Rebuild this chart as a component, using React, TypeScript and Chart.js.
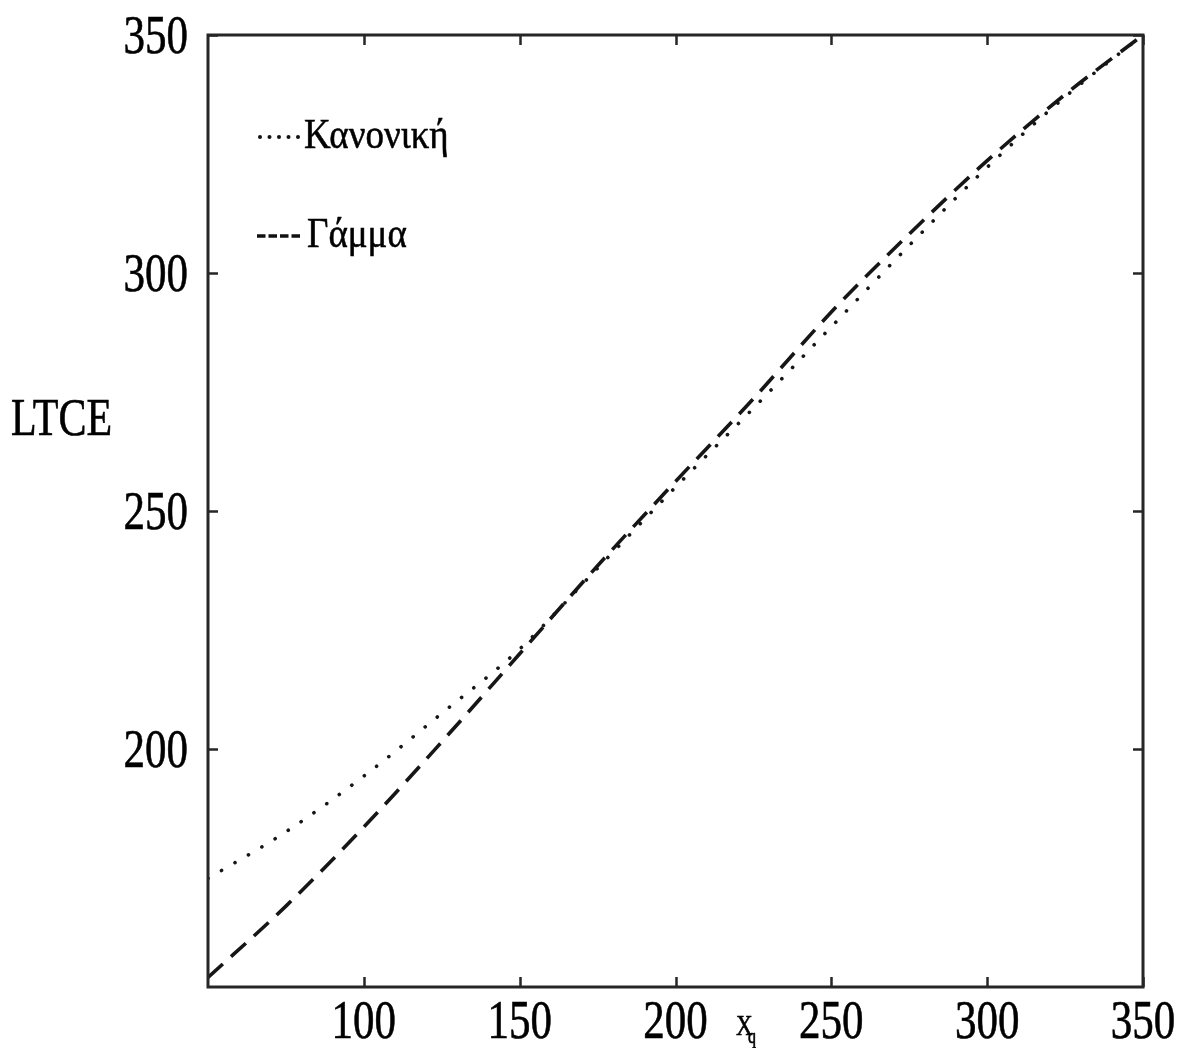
import { useEffect, useRef } from "react";
import { Chart, registerables } from "chart.js";

Chart.register(...registerables);

// Quantile level x_q on the horizontal axis
const xq = [50, 75, 100, 125, 150, 175, 200, 225, 250, 275, 300, 325, 350];
// LTCE under the normal assumption (dotted)
const normalLTCE = [172.8, 182.6, 194.3, 207.5, 221.0, 238.0, 255.0, 271.6, 288.7, 305.8, 322.2, 337.0, 350.0];
// LTCE under the gamma assumption (dashed)
const gammaLTCE = [152.0, 167.0, 183.6, 201.5, 220.0, 238.5, 256.2, 273.6, 291.8, 308.2, 323.6, 337.5, 350.0];

const seriesNames = ["Κανονική", "Γάμμα"];
const xTicks = [100, 150, 200, 250, 300, 350];
const yTicks = [200, 250, 300, 350];
const yTitle = "LTCE";

const SERIF = '"Liberation Serif", "DejaVu Serif", serif';
const STRETCH = 1.27;

function tallText(
  ctx: CanvasRenderingContext2D,
  text: string,
  x: number,
  y: number,
  size: number,
  align: CanvasTextAlign,
  sy = STRETCH
) {
  ctx.save();
  ctx.translate(x, y);
  ctx.scale(1, sy);
  ctx.font = `${size}px ${SERIF}`;
  ctx.textAlign = align;
  ctx.textBaseline = "alphabetic";
  ctx.fillStyle = "#000";
  ctx.strokeStyle = "#000";
  ctx.lineWidth = 0.5;
  ctx.fillText(text, 0, 0);
  ctx.strokeText(text, 0, 0);
  ctx.restore();
}

const framePlugin = {
  id: "frameAndLabels",
  afterDatasetsDraw(chart: any) {
    const { ctx, chartArea: a, scales } = chart;
    const sx = scales.x;
    const syc = scales.y;
    ctx.save();

    // box
    ctx.strokeStyle = "#262626";
    ctx.lineWidth = 3;
    ctx.strokeRect(a.left, a.top, a.right - a.left, a.bottom - a.top);

    // inward ticks on all four sides
    ctx.lineWidth = 2.5;
    const len = 10;
    ctx.beginPath();
    for (const v of xTicks) {
      const px = Math.round(sx.getPixelForValue(v)) + 0.5;
      ctx.moveTo(px, a.bottom);
      ctx.lineTo(px, a.bottom - len);
      ctx.moveTo(px, a.top);
      ctx.lineTo(px, a.top + len);
    }
    for (const v of yTicks) {
      const py = Math.round(syc.getPixelForValue(v)) + 0.5;
      ctx.moveTo(a.left, py);
      ctx.lineTo(a.left + len, py);
      ctx.moveTo(a.right, py);
      ctx.lineTo(a.right - len, py);
    }
    ctx.stroke();

    // tick labels
    for (const v of xTicks) {
      tallText(ctx, String(v), sx.getPixelForValue(v), a.bottom + 51, 43, "center");
    }
    for (const v of yTicks) {
      tallText(ctx, String(v), a.left - 20, syc.getPixelForValue(v) + 17.5, 43, "right");
    }

    // axis titles
    tallText(ctx, yTitle, 11, 435, 42, "left");
    tallText(ctx, "X", 736, 1035, 23, "left");
    tallText(ctx, "q", 748, 1043, 16, "left");

    // legend
    ctx.fillStyle = "#111";
    for (let i = 0; i < 5; i++) {
      ctx.beginPath();
      ctx.arc(260 + i * 9.5, 137, 2, 0, Math.PI * 2);
      ctx.fill();
    }
    ctx.strokeStyle = "#111";
    ctx.lineWidth = 3.4;
    ctx.beginPath();
    for (let i = 0; i < 4; i++) {
      ctx.moveTo(257 + i * 11.5, 236);
      ctx.lineTo(265.5 + i * 11.5, 236);
    }
    ctx.stroke();
    tallText(ctx, seriesNames[0], 304, 148, 37, "left", 1.14);
    tallText(ctx, seriesNames[1], 307, 247, 37, "left", 1.14);

    ctx.restore();
  },
};

export default function App() {
  const canvasRef = useRef<HTMLCanvasElement | null>(null);

  useEffect(() => {
    const canvas = canvasRef.current;
    if (!canvas) return;
    const chart = new Chart(canvas, {
      type: "line",
      data: {
        datasets: [
          {
            label: seriesNames[0],
            data: xq.map((x, i) => ({ x, y: normalLTCE[i] })),
            borderColor: "#161616",
            borderWidth: 3.6,
            borderDash: [0.1, 15.5],
            borderCapStyle: "round",
            pointRadius: 0,
            cubicInterpolationMode: "monotone",
            fill: false,
          },
          {
            label: seriesNames[1],
            data: xq.map((x, i) => ({ x, y: gammaLTCE[i] })),
            borderColor: "#161616",
            borderWidth: 3.6,
            borderDash: [20, 11],
            pointRadius: 0,
            cubicInterpolationMode: "monotone",
            fill: false,
          },
        ],
      },
      options: {
        responsive: false,
        animation: false,
        layout: { padding: { left: 208, right: 43, top: 35, bottom: 61 } },
        plugins: {
          legend: { display: false },
          tooltip: { enabled: false },
        },
        scales: {
          x: { type: "linear", min: 50, max: 350, display: false },
          y: { type: "linear", min: 150, max: 350, display: false },
        },
      },
      plugins: [framePlugin],
    });
    return () => chart.destroy();
  }, []);

  return (
    <div style={{ position: "fixed", left: 0, top: 0, width: 1186, height: 1048, background: "#fff" }}>
      <canvas ref={canvasRef} width={1186} height={1048} style={{ display: "block" }} />
    </div>
  );
}
